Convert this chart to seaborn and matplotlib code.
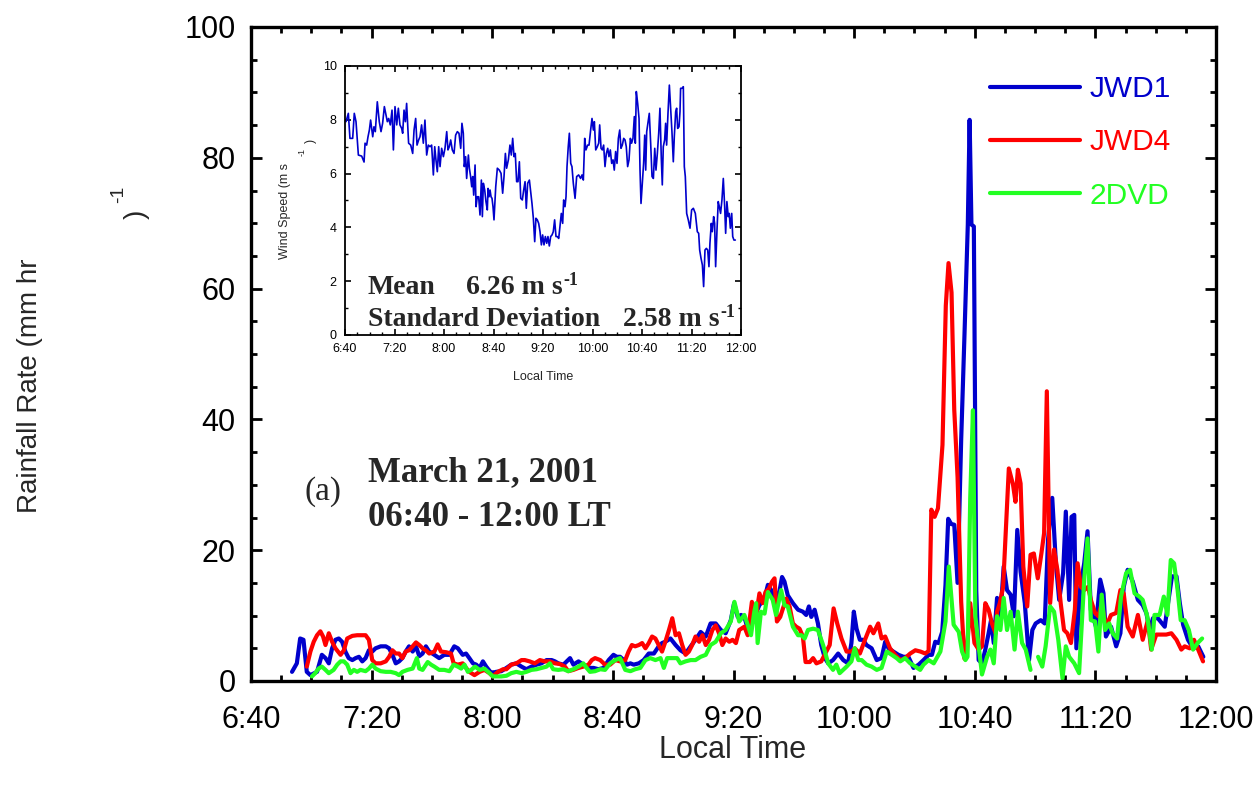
import numpy as np
import pandas as pd
import matplotlib
matplotlib.use("Agg")
import matplotlib.pyplot as plt
import seaborn as sns
from matplotlib.lines import Line2D
from matplotlib.ticker import MultipleLocator
from matplotlib.transforms import IdentityTransform

# ---------------------------------------------------------------------------
# Data: minutes after 06:40 local time and rainfall rate (mm/hr)
# ---------------------------------------------------------------------------
time_ticks = [0, 40, 80, 120, 160, 200, 240, 280, 320]
time_labels = ["6:40", "7:20", "8:00", "8:40", "9:20", "10:00", "10:40", "11:20", "12:00"]
rain_ticks = [0, 20, 40, 60, 80, 100]
series_names = ["JWD1", "JWD4", "2DVD"]

jwd1_min = [13.6, 15.2, 16.3, 17.4, 18.5, 19.7, 21.9, 23.5, 24.7, 25.8, 26.9, 28.0, 29.1, 30.2,
            31.3, 32.4, 33.6, 34.7, 35.8, 36.9, 38.0, 39.1, 40.2, 41.3, 43.0, 44.7, 45.8, 46.9,
            48.0, 49.1, 50.2, 51.3, 52.4, 53.6, 54.7, 55.8, 56.9, 58.0, 59.1, 60.8, 62.4, 64.1,
            65.8, 67.4, 68.6, 70.2, 71.3, 72.4, 73.6, 74.7, 75.8, 76.9, 78.0, 79.7, 81.3, 83.0,
            84.7, 86.3, 88.0, 89.7, 91.3, 93.0, 94.7, 96.3, 98.0, 99.7, 100.8, 101.9, 103.6,
            104.7, 105.8, 106.9, 108.6, 110.2, 111.9, 113.6, 115.2, 116.9, 118.6, 120.2, 121.3,
            122.4, 123.6, 124.7, 125.8, 126.9, 128.6, 130.2, 131.9, 133.6, 135.2, 136.3, 137.4,
            139.1, 140.8, 142.4, 144.1, 145.8, 147.4, 149.1, 150.8, 152.4, 154.1, 155.8, 157.4,
            159.1, 160.2, 161.4, 162.5, 163.6, 164.7, 165.8, 166.9, 168.6, 170.3, 171.4, 172.5,
            174.1, 175.3, 176.1, 176.9, 178.0, 179.7, 181.4, 183.0, 184.1, 185.0, 185.8, 186.9,
            188.0, 189.1, 190.3, 191.4, 193.0, 194.7, 196.4, 198.0, 199.1, 199.9, 200.8, 201.9,
            203.0, 204.1, 205.8, 207.5, 209.1, 210.3, 211.4, 213.0, 214.7, 216.4, 218.0, 219.7,
            221.4, 223.0, 224.7, 225.8, 226.9, 228.0, 229.2, 230.3, 231.2, 232.2, 233.2, 234.3,
            235.5, 236.6, 237.7, 238.3, 238.9, 239.7, 240.5, 241.3, 242.4, 243.5, 244.6, 245.4,
            246.3, 247.4, 248.5, 249.6, 250.7, 251.9, 253.0, 254.1, 255.2, 256.6, 258.0, 259.1,
            260.2, 261.9, 263.2, 264.3, 265.7, 266.9, 268.0, 269.3, 270.2, 271.3, 272.1, 273.0,
            273.7, 275.0, 276.3, 277.4, 278.5, 280.2, 281.6, 282.7, 283.5, 285.2, 286.9, 288.3,
            289.4, 290.7, 292.4, 294.1, 295.7, 296.9, 298.0, 299.1, 300.7, 303.0, 304.1, 305.4,
            306.9, 308.0, 309.1, 310.7, 312.4, 314.1, 315.8]
jwd1_rate = [1.4, 2.7, 6.5, 6.3, 1.4, 0.9, 1.4, 4.0, 3.5, 2.7, 5.0, 6.3, 6.5, 6.0,
             4.5, 3.5, 3.2, 3.5, 3.7, 3.0, 3.5, 4.7, 4.5, 5.0, 5.3, 5.3, 5.0, 4.0,
             2.7, 3.0, 3.5, 4.5, 5.3, 4.5, 5.3, 3.8, 4.2, 5.3, 4.5, 4.0, 3.5, 4.0,
             4.0, 5.3, 5.0, 4.0, 4.2, 3.5, 2.7, 2.5, 2.0, 3.0, 2.2, 1.2, 1.4, 1.5,
             2.0, 2.5, 2.7, 2.2, 1.8, 2.2, 2.5, 2.7, 3.2, 3.2, 3.0, 2.7, 2.5,
             3.0, 3.5, 2.5, 3.0, 2.5, 2.0, 2.0, 1.8, 2.0, 3.2, 4.0, 3.7,
             3.7, 3.2, 2.5, 2.7, 2.5, 2.7, 3.2, 4.2, 4.2, 5.3, 5.8, 6.0,
             6.5, 5.5, 4.7, 4.2, 5.3, 6.3, 7.5, 6.8, 8.8, 8.8, 7.8, 7.3,
             9.3, 11.9, 9.8, 10.1, 9.8, 8.0, 9.3, 9.8, 11.6, 12.6, 14.7, 13.9,
             11.9, 13.9, 15.9, 15.2, 13.1, 11.9, 10.9, 10.6, 10.1, 11.4, 9.8, 10.9,
             8.8, 5.5, 3.5, 2.7, 3.2, 4.2, 3.2, 2.7, 5.8, 10.6, 8.0, 6.3,
             6.3, 5.5, 5.0, 3.2, 3.5, 6.0, 5.0, 4.5, 4.0, 3.7, 3.7, 2.0,
             2.5, 3.2, 4.0, 4.0, 6.0, 5.8, 7.5, 14.7, 24.8, 24.0, 23.9, 15.0,
             36.9, 53.0, 69.8, 85.8, 69.8, 69.5, 13.8, 3.2, 2.7, 4.8, 7.3, 9.3,
             5.8, 12.7, 9.9, 17.5, 13.9, 13.2, 9.9, 23.1, 16.7, 11.9, 3.2, 7.8,
             8.8, 9.3, 8.8, 21.6, 28.0, 18.0, 12.4, 16.5, 25.9, 12.4, 25.1, 25.4,
             5.0, 14.4, 18.0, 22.9, 10.9, 8.3, 15.5, 13.4, 6.8, 8.3, 5.3, 7.3,
             14.4, 17.0, 15.2, 12.4, 11.6, 10.4, 7.8, 9.6, 9.6, 8.3, 11.9, 16.0,
             16.0, 11.9, 8.6, 6.3, 5.0, 5.3, 3.7]

jwd4_min = [18.5, 19.7, 20.8, 21.9, 23.0, 23.9, 24.7, 25.8, 26.9, 28.0, 29.7, 30.8, 31.9, 33.6,
            35.2, 36.9, 38.0, 39.1, 40.2, 41.3, 43.0, 44.7, 45.8, 46.9, 48.0, 49.1, 50.2, 51.3,
            52.4, 53.6, 54.7, 55.8, 56.9, 58.0, 59.1, 60.8, 61.9, 63.0, 64.7, 66.3, 67.2, 68.6,
            70.2, 71.3, 72.4, 74.1, 75.8, 77.4, 79.1, 80.2, 81.9, 83.6, 84.7, 86.3, 88.0, 89.7,
            90.8, 92.4, 94.1, 95.8, 97.4, 99.1, 100.8, 102.4, 104.1, 105.2, 106.9, 108.6, 110.2,
            111.9, 113.0, 114.1, 115.8, 117.4, 119.1, 120.8, 122.4, 124.1, 125.2, 126.3, 127.4,
            128.6, 129.7, 130.8, 131.9, 133.0, 134.1, 135.2, 136.3, 137.4, 138.6, 139.7, 140.8,
            141.9, 143.0, 144.1, 145.2, 146.3, 147.4, 148.6, 149.7, 150.8, 151.9, 153.0, 154.1,
            155.2, 156.3, 157.4, 158.6, 159.7, 160.8, 161.9, 163.6, 164.7, 166.1, 167.2, 168.6,
            169.7, 170.6, 171.7, 172.8, 173.6, 174.4, 175.5, 176.4, 177.5, 178.6, 179.7, 180.8,
            181.9, 183.0, 183.9, 185.3, 186.4, 187.5, 189.1, 190.8, 191.9, 193.2, 194.4, 195.8,
            197.5, 199.1, 200.2, 201.9, 203.6, 205.3, 206.4, 208.0, 209.1, 210.3, 211.9, 213.6,
            215.3, 216.9, 218.6, 220.3, 222.0, 223.6, 224.7, 225.6, 226.7, 227.8, 229.3, 230.4,
            231.3, 232.3, 233.2, 234.3, 235.5, 236.6, 237.4, 238.5, 239.9, 241.3, 242.4, 243.5,
            244.6, 245.7, 246.9, 247.4, 248.3, 249.4, 250.2, 251.3, 252.7, 253.5, 254.3, 255.2,
            256.1, 257.4, 258.5, 259.6, 260.9, 262.1, 263.0, 263.9, 265.0, 266.3, 267.4, 268.5,
            269.6, 270.7, 271.9, 273.2, 274.1, 275.2, 276.3, 277.6, 278.5, 279.9, 281.0, 282.1,
            283.5, 285.2, 286.9, 288.3, 289.4, 290.7, 292.4, 294.1, 295.7, 297.4, 298.5, 300.2,
            301.9, 303.5, 305.2, 306.9, 308.5, 309.6, 311.3, 312.7, 314.1, 315.7]
jwd4_rate = [2.2, 4.5, 6.0, 7.0, 7.6, 6.8, 5.5, 7.3, 6.0, 5.0, 4.0, 4.7, 6.5, 6.9,
             7.0, 7.0, 7.0, 6.3, 3.2, 2.7, 2.7, 3.0, 3.7, 4.7, 4.2, 4.2, 3.5, 4.5,
             4.7, 5.3, 5.9, 5.5, 5.0, 4.7, 4.2, 4.5, 5.6, 4.5, 4.4, 4.2, 2.7, 2.5,
             2.7, 2.0, 1.4, 0.9, 1.4, 1.7, 1.2, 0.7, 1.4, 1.8, 1.8, 2.5, 2.7, 3.2,
             3.2, 3.0, 2.7, 3.2, 3.0, 3.0, 2.7, 2.6, 2.2, 1.5, 1.7, 2.0, 2.2,
             2.5, 3.2, 3.5, 3.2, 2.5, 2.5, 3.2, 3.0, 3.2, 4.5, 5.5, 5.3,
             5.5, 5.8, 5.0, 5.8, 6.8, 6.5, 5.5, 4.5, 6.0, 7.8, 9.6, 7.0,
             7.3, 5.5, 4.0, 4.5, 5.5, 6.8, 6.0, 7.0, 5.5, 6.3, 7.8, 8.5,
             7.3, 5.5, 6.5, 6.0, 6.3, 5.8, 7.8, 8.3, 7.0, 12.1, 9.1, 13.4,
             11.9, 13.6, 14.1, 15.2, 15.7, 9.1, 9.8, 11.1, 12.6, 11.4, 8.8, 8.3,
             8.0, 6.8, 2.9, 2.9, 3.5, 2.7, 3.0, 4.5, 5.5, 11.1, 8.8, 6.5,
             4.5, 4.5, 5.0, 4.2, 6.3, 8.3, 7.3, 8.8, 6.5, 6.8, 5.0, 4.0,
             3.2, 3.5, 4.2, 4.7, 4.5, 4.2, 4.6, 26.2, 25.1, 26.4, 36.1, 57.4,
             63.9, 59.4, 41.5, 31.2, 12.1, 3.4, 4.5, 11.9, 5.8, 4.8, 5.3, 11.9,
             10.9, 8.8, 7.3, 10.6, 11.9, 14.4, 22.1, 32.5, 30.0, 27.4, 32.3, 30.2,
             17.5, 11.4, 19.3, 19.5, 15.7, 19.5, 22.6, 44.3, 11.9, 20.1, 17.0, 11.9,
             7.8, 7.3, 5.8, 10.9, 18.0, 14.4, 13.9, 14.4, 12.4, 10.4, 9.9, 11.9,
             8.3, 10.1, 10.4, 13.9, 13.4, 8.3, 6.8, 10.1, 6.3, 9.3, 4.8, 7.1,
             7.1, 7.1, 7.3, 6.3, 4.8, 5.3, 5.0, 6.3, 4.8, 3.0]

# NaN marks a short data dropout in the disdrometer record
dvd_min = [20.2, 21.3, 22.4, 23.5, 24.7, 25.8, 27.4, 28.6, 29.7, 30.8, 31.9, 33.0, 34.1, 35.2,
           36.3, 38.0, 39.1, 40.2, 41.3, 43.0, 44.7, 46.3, 48.0, 49.1, 50.2, 51.9, 53.6, 55.0,
           55.8, 56.9, 58.6, 59.7, 60.8, 62.4, 64.1, 65.8, 67.2, 68.6, 69.7, 70.8, 71.9, 73.0,
           74.3, 75.8, 77.4, 79.1, 80.2, 81.9, 83.0, 84.7, 86.3, 88.0, 89.7, 91.3, 93.0, 94.7,
           96.3, 98.0, 99.1, 100.2, 101.9, 103.6, 105.2, 106.9, 108.6, 110.2, 111.3, 112.4,
           114.1, 115.8, 117.4, 119.1, 120.8, 122.4, 124.1, 125.8, 127.4, 129.1, 130.8, 132.4,
           134.1, 135.8, 136.9, 138.0, 139.7, 141.3, 142.4, 144.1, 145.8, 147.4, 149.1, 150.8,
           152.4, 154.1, 155.8, 157.4, 159.1, 160.3, 161.9, 163.6, 164.7, 165.8, 166.9, 167.5,
           168.0, 169.1, 170.3, 171.4, 173.0, 174.1, 175.8, 176.9, 178.0, 179.7, 181.4, 182.5,
           183.6, 184.7, 186.4, 188.0, 189.7, 191.4, 193.0, 194.1, 195.2, 197.5, 199.1, 200.2,
           201.4, 202.5, 204.1, 205.8, 207.5, 209.1, 210.8, 212.5, 214.1, 215.3, 216.9, 218.6,
           220.3, 221.9, 223.0, 224.7, 226.4, 228.6, 230.3, 231.4, 233.0, 234.7, 235.8, 236.9,
           237.6, 238.5, 239.4, 240.2, 241.3, 242.4, 244.1, 245.2, 246.3, 247.4, 248.5, 249.6,
           250.7, 251.9, 253.2, 254.3, 255.7, 256.9, 258.5, 259.8, 261.0, 262.4, 263.5, 265.0,
           266.3, 267.7, 269.1, 270.2, 271.3, 273.0, 274.6, 276.3, 277.4, 278.5, 279.9, 281.0,
           282.1, 283.2, 284.6, 285.7, 287.2, 288.5, 290.2, 291.5, 293.0, 294.6, 295.7, 297.2,
           298.7, 299.6, 301.3, 302.7, 303.9, 305.0, 306.1, 307.2, 308.3, 309.6, 311.0, 312.4,
           313.9, 315.4]
dvd_rate = [0.7, 1.2, 1.9, 2.2, 1.7, 1.2, 1.7, 2.5, 3.0, 3.0, 2.5, 1.2, 1.7, 1.4,
            1.7, 1.5, 1.9, 2.5, 1.9, 1.5, 1.4, 1.4, 1.2, 0.9, 1.4, 1.7, 1.9, 3.5,
            1.9, 1.7, 2.9, 2.5, 2.2, 1.7, 1.7, 1.5, 2.5, 2.2, 1.9, 2.5, 1.4, 1.7,
            2.2, 1.7, 1.9, 1.2, 0.7, 0.7, 0.7, 0.8, 1.2, 1.4, 1.2, 1.4, 1.7, 1.8,
            2.0, 2.2, 2.7, 1.8, 1.7, 1.8, 1.5, 1.8, 2.2, 2.7, 2.0, 1.4,
            1.5, 1.8, 1.7, 2.7, 3.2, 3.5, 1.7, 1.5, 1.8, 2.0, 3.2, 3.5,
            3.2, 3.5, 2.0, 3.5, 3.5, 3.5, 2.7, 3.0, 3.2, 3.2, 3.7, 4.0,
            5.5, 6.0, 7.3, 7.8, 9.1, 12.1, 9.1, 10.1, 8.6, 7.0, 10.6, 11.9,
            5.8, 10.6, 10.3, 13.6, 12.4, 10.1, 13.9, 11.6, 11.4, 8.3, 7.0, 7.0,
            6.5, 7.8, 8.0, 7.8, 5.5, 2.7, 1.7, 2.5, 1.2, 2.2, 3.0, 5.0,
            3.2, 3.2, 2.5, 2.2, 1.7, 2.0, 4.5, 4.0, 3.5, 3.0, 3.5, 2.7,
            2.2, 1.7, 2.5, 3.2, 2.7, 4.5, 9.1, 17.5, 8.6, 7.5, 4.5, 3.2,
            3.7, 28.0, 41.4, 9.9, 5.3, 1.0, 3.7, 4.8, 2.7, 9.9, 7.8, 12.7,
            7.8, 10.6, 4.8, 10.6, 5.8, 4.8, 1.7, np.nan, 3.7, 2.2, 5.3, 11.4,
            10.6, 6.3, 0.4, 5.3, 3.7, 2.7, 1.2, 15.5, 21.8, 9.3, 9.1, 4.5,
            13.2, 7.8, 8.8, 7.3, 6.5, 12.9, 16.5, 17.0, 13.4, 12.9, 12.4, 9.9,
            4.8, 10.1, 10.1, 12.9, 10.1, 18.5, 18.0, 14.2, 9.3, 9.3, 7.8, 4.8,
            5.8, 6.5]

# Wind speed (m/s) for the inset, minutes after 06:40
wind_min = [0.8, 2.7, 4.0, 6.2, 7.5, 8.9, 10.8, 13.5, 15.4, 16.2, 17.5, 18.6, 19.7, 20.7,
            22.4, 23.4, 24.5, 26.1, 27.7, 29.1, 30.4, 31.8, 33.1, 34.2, 35.3, 36.6, 38.0,
            39.1, 40.4, 41.8, 43.1, 44.4, 45.8, 46.6, 47.7, 48.8, 49.8, 51.4, 53.1, 54.7,
            55.8, 57.1, 58.2, 59.5, 60.6, 61.9, 63.3, 64.6, 66.0, 67.3, 68.7, 70.0, 71.4,
            72.5, 73.5, 74.6, 75.7, 76.8, 78.1, 79.5, 80.8, 82.2, 83.2, 84.3, 85.4, 86.7,
            88.1, 89.4, 90.8, 92.1, 93.5, 94.5, 95.6, 96.4, 97.5, 98.3, 99.7, 100.5, 101.5,
            102.4, 103.2, 104.0, 105.1, 105.9, 106.9, 108.0, 109.1, 110.2, 111.0, 111.8,
            112.9, 113.9, 115.0, 115.6, 116.4, 117.2, 118.0, 118.8, 119.6, 120.4, 121.8,
            123.1, 124.7, 126.1, 127.4, 128.5, 129.6, 130.6, 132.0, 133.3, 134.4, 135.5,
            136.6, 137.6, 138.7, 139.8, 140.9, 142.0, 143.3, 144.4, 145.5, 146.5, 147.6,
            149.0, 150.0, 151.1, 152.2, 153.3, 154.3, 155.4, 156.5, 157.6, 158.7, 159.7,
            160.8, 161.9, 163.0, 164.0, 165.1, 166.2, 167.3, 168.3, 169.4, 170.5, 171.6,
            172.7, 173.7, 174.8, 175.9, 176.7, 177.8, 178.6, 179.4, 180.4, 181.3, 182.4,
            183.4, 184.5, 185.9, 187.2, 188.8, 190.4, 191.5, 192.6, 193.7, 194.7, 196.1,
            197.2, 198.5, 199.6, 200.7, 201.5, 202.6, 203.9, 205.0, 205.8, 206.9, 207.9,
            209.0, 210.1, 211.2, 212.3, 213.3, 214.4, 215.5, 216.6, 217.6, 218.7, 219.8,
            220.9, 222.0, 223.0, 224.1, 225.2, 226.3, 227.3, 228.4, 229.5, 230.6, 231.6,
            232.7, 233.8, 234.6, 235.4, 236.5, 237.6, 238.4, 239.2, 240.3, 241.3, 242.2,
            243.0, 243.8, 244.9, 245.9, 247.0, 248.1, 249.2, 250.3, 251.3, 252.4, 253.5,
            254.5, 255.6, 256.4, 257.2, 258.3, 259.1, 259.9, 261.0, 262.1, 263.2, 264.2,
            265.3, 266.1, 267.2, 268.0, 268.8, 269.9, 270.7, 271.2, 272.3, 273.4, 274.2,
            275.0, 276.1, 277.4, 278.8, 280.1, 281.5, 283.1, 284.7, 285.8, 286.6, 287.7,
            288.8, 289.8, 290.9, 292.0, 293.1, 294.1, 294.9, 296.0, 296.8, 297.9, 298.7,
            299.5, 300.6, 301.6, 302.5, 303.5, 304.6, 305.7, 306.8, 307.6, 308.6, 309.7,
            310.5, 311.4, 312.5, 313.3, 314.3, 315.4]
wind_speed = [7.93, 8.24, 7.31, 7.31, 8.24, 7.93, 6.69, 6.65, 6.43, 7.13, 7.06, 7.37, 7.62, 7.99,
              7.37, 7.74, 7.56, 8.67, 7.93, 7.56, 7.87, 8.49, 8.18, 7.93, 8.05, 7.81, 8.36,
              6.88, 8.49, 7.81, 8.43, 7.81, 7.68, 7.50, 8.36, 7.93, 8.61, 7.13, 7.06, 6.75,
              7.62, 8.05, 7.06, 7.25, 7.37, 7.81, 7.13, 7.99, 6.69, 7.06, 7.00, 7.06, 5.95,
              7.00, 6.51, 6.07, 7.00, 6.26, 6.94, 6.63, 6.94, 7.56, 6.88, 7.00, 7.25, 6.88,
              6.75, 7.43, 7.56, 7.50, 6.94, 7.87, 7.50, 6.26, 6.63, 5.82, 6.69, 6.20, 5.89,
              5.51, 5.89, 5.20, 6.32, 4.77, 5.14, 5.14, 4.46, 5.76, 4.40, 5.64,
              5.39, 4.96, 4.65, 5.45, 5.14, 5.39, 5.14, 5.08, 4.77, 4.28, 5.51,
              6.20, 6.13, 6.01, 5.27, 5.89, 6.75, 6.20, 6.51, 7.06, 6.69, 7.31,
              6.63, 6.75, 5.70, 5.70, 6.44, 5.08, 5.02, 5.39, 5.70, 4.71, 5.64,
              5.76, 5.33, 4.89, 4.34, 3.47, 4.34, 4.28, 4.15, 3.84, 3.35, 3.72,
              3.35, 3.66, 3.41, 3.66, 3.31, 3.66, 3.72, 3.84, 4.28, 3.66, 3.66,
              3.59, 4.03, 4.52, 4.15, 5.02, 4.77, 5.14, 6.26, 7.00, 7.50, 6.38,
              6.26, 5.64, 5.08, 5.89, 5.95, 5.82, 5.95, 5.76, 7.31, 6.88, 7.06,
              7.06, 7.62, 8.05, 7.62, 7.93, 6.88, 7.00, 7.13, 7.81, 6.94, 6.88,
              7.06, 6.26, 6.75, 6.94, 6.63, 6.88, 6.38, 6.51, 6.13, 6.82, 6.38,
              7.31, 7.62, 6.94, 7.06, 7.31, 7.25, 7.00, 6.26, 6.51, 7.31, 7.13,
              7.31, 8.12, 7.13, 9.05, 8.61, 8.05, 6.13, 4.89, 5.64, 6.38, 7.43,
              6.13, 7.56, 7.93, 8.24, 7.13, 5.89, 5.82, 6.94, 6.13, 6.75, 7.50,
              8.43, 6.57, 5.58, 7.00, 7.25, 7.87, 7.06, 8.24, 9.29, 8.36, 7.56,
              6.44, 7.37, 8.30, 8.43, 7.68, 7.74, 8.30, 9.17, 9.17, 9.23, 6.26,
              5.89, 4.52, 4.28, 3.97, 4.65, 4.71, 4.52, 3.84, 3.78, 3.16, 2.85,
              2.60, 1.80, 3.16, 3.22, 3.16, 2.54, 3.41, 4.15, 3.84, 4.40, 4.15,
              2.54, 3.90, 4.96, 4.77, 4.52, 5.02, 5.82, 4.77, 3.78, 4.96, 4.40,
              4.52, 3.97, 4.52, 3.66, 3.53, 3.53]

wind_ticks = [0, 2, 4, 6, 8, 10]
wind_mean_text = "6.26 m s"
wind_std_text = "2.58 m s"
unit_exponent = "-1"

series_colors = {"JWD1": "#0000cc", "JWD4": "#ff0000", "2DVD": "#22ff22"}

# ---------------------------------------------------------------------------
# Style
# ---------------------------------------------------------------------------
sns.set_theme(style="ticks")
plt.rcParams["font.family"] = ["Liberation Sans", "DejaVu Sans"]

W, H = 1256, 793
fig = plt.figure(figsize=(W / 100, H / 100), dpi=100)
fig.patch.set_facecolor("white")


def fx(px):
    return px / W


def fy(py):
    return 1 - py / H


ax = fig.add_axes([fx(251), fy(681), (1216 - 251) / W, (681 - 27) / H])
ax.set_facecolor("white")


def segments(minutes, values):
    df = pd.DataFrame({"minute": minutes, "rate": values})
    df["segment"] = df["rate"].isna().cumsum()
    return df.dropna()


for name, mins, vals in [("JWD1", jwd1_min, jwd1_rate),
                         ("JWD4", jwd4_min, jwd4_rate),
                         ("2DVD", dvd_min, dvd_rate)]:
    df = segments(mins, vals)
    sns.lineplot(data=df, x="minute", y="rate", units="segment", estimator=None,
                 sort=False, color=series_colors[name], lw=3.0, ax=ax, legend=False)

ax.set_xlim(0, 320)
ax.set_ylim(0, 100)
ax.set_xticks(time_ticks)
ax.set_xticklabels(time_labels)
ax.set_yticks(rain_ticks)
ax.xaxis.set_minor_locator(MultipleLocator(10))
ax.yaxis.set_minor_locator(MultipleLocator(5))
ax.set_xlabel("")
ax.set_ylabel("")
for sp in ax.spines.values():
    sp.set_linewidth(2.4)
    sp.set_color("black")
ax.tick_params(which="both", direction="in", top=True, right=True, colors="black")
ax.tick_params(which="major", length=8, width=2.0, labelsize=22)
ax.tick_params(which="minor", length=4.5, width=2.0)
ax.tick_params(axis="x", which="major", pad=17)
ax.tick_params(axis="y", which="major", pad=11)

# Axis titles
fig.text(fx(733), fy(750), "Local Time", ha="center", va="center", fontsize=22)
fig.text(fx(30), fy(386), "Rainfall Rate (mm hr", rotation=90, ha="center", va="center",
         fontsize=20)
fig.text(fx(119), fy(194), "-1", rotation=90, ha="center", va="center", fontsize=14)
fig.text(fx(137), fy(214), ")", rotation=90, ha="center", va="center", fontsize=20)

# Legend
handles = [Line2D([], [], color=series_colors[n], lw=3.0) for n in series_names]
leg = ax.legend(handles, series_names, loc="upper left", bbox_to_anchor=(0.766, 0.926),
                frameon=False, fontsize=21.5, handlelength=3.0, handletextpad=0.33,
                labelspacing=0.84, borderpad=0, borderaxespad=0)
for txt, n in zip(leg.get_texts(), series_names):
    txt.set_color(series_colors[n])

# Case annotation
fig.text(fx(305), fy(500), "(a)", family="Liberation Serif", fontsize=24, va="baseline")
fig.text(fx(368), fy(481), "March 21, 2001", family="Liberation Serif", weight="bold",
         fontsize=25, va="baseline")
fig.text(fx(368), fy(526), "06:40 - 12:00 LT", family="Liberation Serif", weight="bold",
         fontsize=25, va="baseline")

# ---------------------------------------------------------------------------
# Inset: wind speed
# ---------------------------------------------------------------------------
axi = fig.add_axes([fx(345), fy(335), (741 - 345) / W, (335 - 66) / H])
axi.set_facecolor("white")
sns.lineplot(x=wind_min, y=wind_speed, color="#0000cc", lw=1.2, ax=axi,
             estimator=None, sort=False)
axi.set_xlim(0, 320)
axi.set_ylim(0, 10)
axi.set_xticks(time_ticks)
axi.set_xticklabels(time_labels)
axi.set_yticks(wind_ticks)
axi.xaxis.set_minor_locator(MultipleLocator(10))
axi.yaxis.set_minor_locator(MultipleLocator(1))
for sp in axi.spines.values():
    sp.set_linewidth(1.3)
    sp.set_color("black")
axi.tick_params(which="both", direction="in", top=True, right=True, colors="black")
axi.tick_params(which="major", length=4, width=1.2, labelsize=9, pad=6)
axi.tick_params(which="minor", length=2.2, width=1.0)
axi.set_xlabel("Local Time", fontsize=9, labelpad=11)
axi.set_ylabel("")
fig.text(fx(285), fy(211), "Wind Speed (m s", rotation=90, ha="center", va="center",
         fontsize=9)
fig.text(fx(302), fy(152), "-1", rotation=90, ha="center", va="center", fontsize=6.5)
fig.text(fx(311), fy(141), ")", rotation=90, ha="center", va="center", fontsize=9)

stat_font = dict(family="Liberation Serif", weight="bold", va="baseline")
fig.text(fx(368), fy(294), "Mean", fontsize=20, **stat_font)
t_mean = fig.text(fx(466), fy(294), wind_mean_text, fontsize=20, **stat_font)
fig.text(fx(368), fy(326), "Standard Deviation", fontsize=20, **stat_font)
t_std = fig.text(fx(623), fy(326), wind_std_text, fontsize=20, **stat_font)

# Superscript exponents placed right after the unit text
fig.canvas.draw()
renderer = fig.canvas.get_renderer()
for t, base_py in [(t_mean, 294), (t_std, 326)]:
    bb = t.get_window_extent(renderer)
    fig.text(bb.x1 + 1, (H - base_py) + 9, unit_exponent, transform=IdentityTransform(),
             fontsize=13, **stat_font)

fig.savefig("out.png", dpi=100, facecolor="white")
